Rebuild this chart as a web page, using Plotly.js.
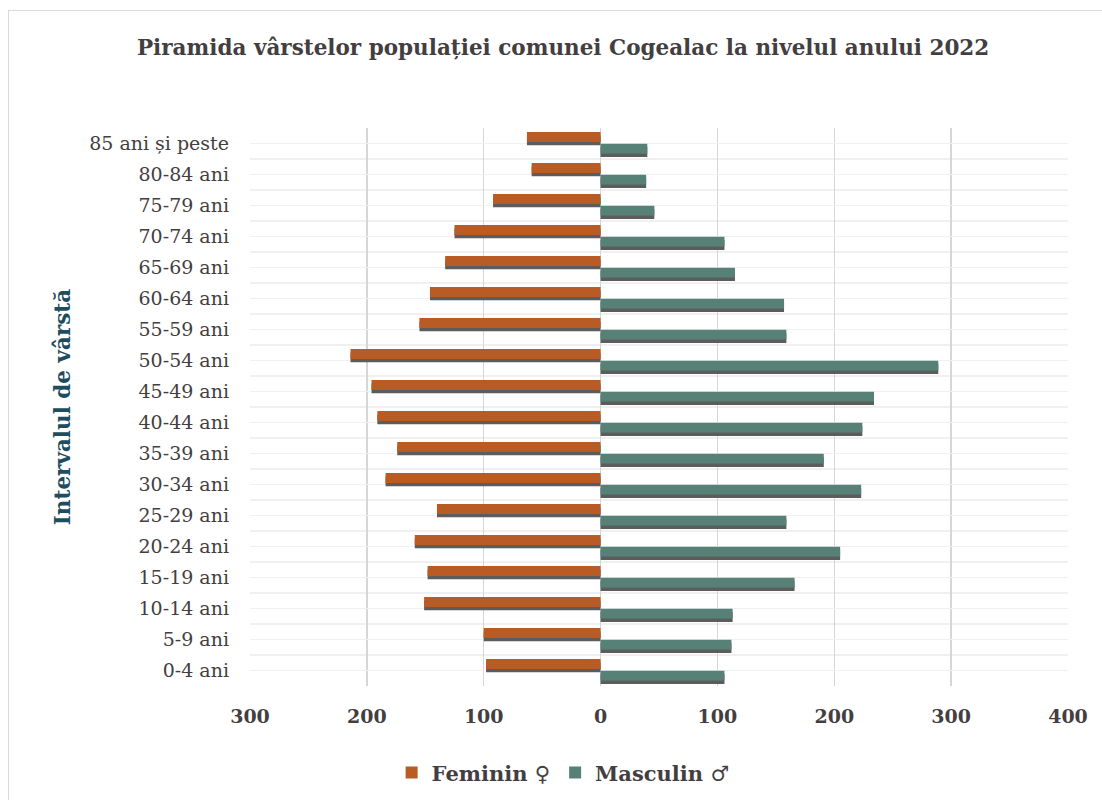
<!DOCTYPE html>
<html>
<head>
<meta charset="utf-8">
<script src="https://cdn.plot.ly/plotly-3.0.1.min.js"></script>
<style>
html,body{margin:0;padding:0;background:#fff;}
#wrap{position:relative;width:1102px;height:800px;overflow:hidden;}
#chart{position:absolute;left:0;top:0;width:1102px;height:800px;}
#frame{position:absolute;left:8px;top:10px;width:1200px;height:900px;border-left:1.5px solid #d9d9d9;border-top:1.5px solid #d9d9d9;pointer-events:none;}
</style>
</head>
<body>
<div id="wrap"><div id="chart"></div><div id="frame"></div></div>
<script>
// Data (bottom to top)
const categories = ["0-4 ani","5-9 ani","10-14 ani","15-19 ani","20-24 ani","25-29 ani","30-34 ani","35-39 ani","40-44 ani","45-49 ani","50-54 ani","55-59 ani","60-64 ani","65-69 ani","70-74 ani","75-79 ani","80-84 ani","85 ani și peste"];
const feminin  = [98,100,151,148,159,140,184,174,191,196,214,155,146,133,125,92,59,63];
const masculin = [106,112,113,166,205,159,223,191,224,234,289,159,157,115,106,46,39,40];
const tickVals = [-300,-200,-100,0,100,200,300,400];
const tickText = ["300","200","100","0","100","200","300","400"];

const FONT = "DejaVu Serif, Liberation Serif, serif";
const TXT = "#433e3f";
const ORANGE = "#b95b24";
const GREEN = "#578176";
const SHADOW = "#5c5c5c";

const pos = categories.map((c,i)=>i);
const femNeg = feminin.map(v=>-v);
const W = 0.32, SH = 0.11;

const traces = [
  {type:'bar', orientation:'h', y:pos, x:femNeg, offset:0.05-SH, width:W, marker:{color:SHADOW}, showlegend:false, hoverinfo:'skip'},
  {type:'bar', orientation:'h', y:pos, x:masculin, offset:-W-0.005-SH, width:W, marker:{color:SHADOW}, showlegend:false, hoverinfo:'skip'},
  {type:'bar', orientation:'h', y:pos, x:femNeg, offset:0.05, width:W, name:'Feminin ♀', marker:{color:ORANGE}, legendrank:1},
  {type:'bar', orientation:'h', y:pos, x:masculin, offset:-W-0.005, width:W, name:'Masculin ♂', marker:{color:GREEN}, legendrank:2}
];

const layout = {
  width:1102, height:800,
  paper_bgcolor:'#fff', plot_bgcolor:'#fff',
  margin:{l:250, r:34, t:128, b:114},
  barmode:'overlay',
  font:{family:FONT, color:TXT},
  title:{text:'<b>Piramida vârstelor populației comunei Cogealac la nivelul anului 2022</b>', font:{family:FONT, size:21.5, color:TXT}, x:0.511, xref:'container', xanchor:'center', y:0.941, yref:'container', yanchor:'middle'},
  xaxis:{range:[-300,400], tickmode:'array', tickvals:tickVals, ticktext:tickText, showgrid:true, gridcolor:'#d6d6d6', gridwidth:1.5, zeroline:false, showline:false, ticks:'', tickfont:{family:FONT, size:19, color:TXT, weight:'bold'}, ticklabelstandoff:17, fixedrange:true},
  yaxis:{range:[-0.5,17.5], tickmode:'array', tickvals:pos, ticktext:categories, showgrid:true, gridcolor:'#f0f0f0', gridwidth:1.5, zeroline:false, showline:false, ticks:'', tickfont:{family:FONT, size:19, color:TXT}, ticklabelstandoff:20,
    minor:{tick0:-0.5, dtick:1, showgrid:true, gridcolor:'#f0f0f0', gridwidth:1.5, ticks:''},
    title:{text:'<b>Intervalul de vârstă</b>', font:{family:FONT, size:21.5, color:'#1d4d5e'}, standoff:12}, automargin:false, fixedrange:true},
  legend:{orientation:'h', x:0.511, xref:'container', xanchor:'center', y:0.034, yref:'container', yanchor:'middle', font:{family:FONT, size:21, color:TXT, weight:'bold'}, itemwidth:30, traceorder:'normal'},
  showlegend:true
};
Plotly.newPlot('chart', traces, layout, {staticPlot:true, displayModeBar:false});
</script>
</body>
</html>
